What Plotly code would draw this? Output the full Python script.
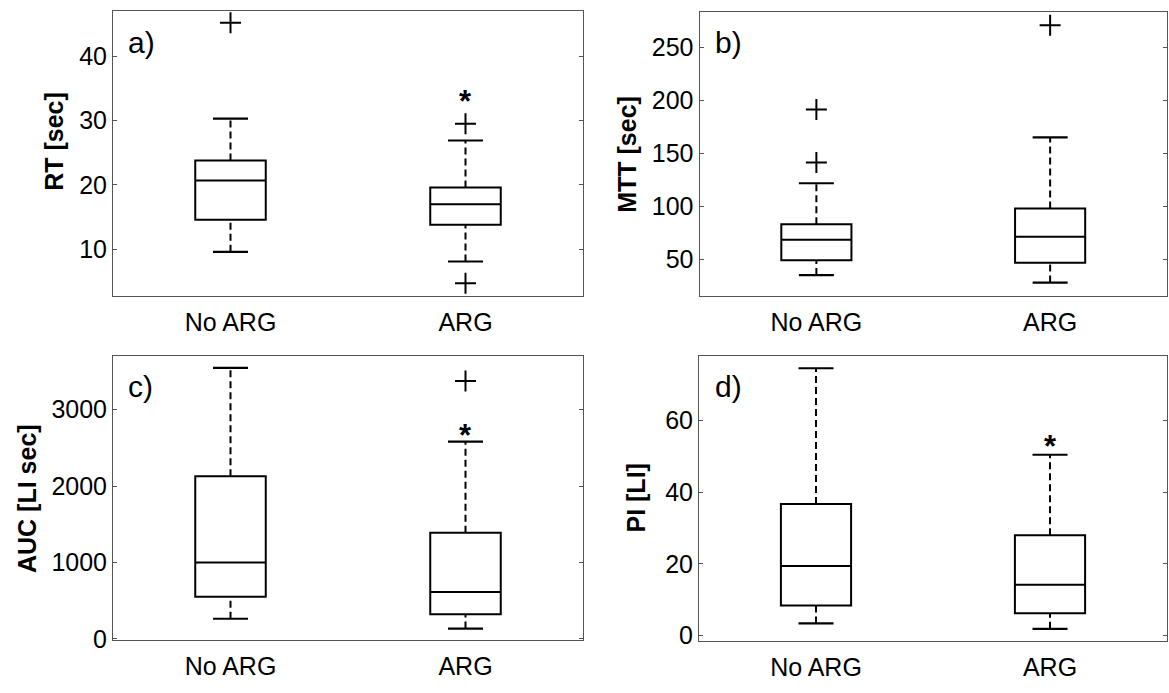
import plotly.graph_objects as go

groups = ["No ARG", "ARG"]

# a) RT [sec]
rt_q1 = [14.6, 13.8]
rt_med = [20.7, 17.0]
rt_q3 = [23.8, 19.6]
rt_lo = [9.6, 8.1]
rt_hi = [30.3, 26.9]
rt_out = [[45.2], [29.5, 4.7]]
rt_star = [None, 34.0]
rt_ticks = [10, 20, 30, 40]

# b) MTT [sec]
mtt_q1 = [49.4, 47.2]
mtt_med = [68.8, 71.6]
mtt_q3 = [83.3, 98.1]
mtt_lo = [35.5, 28.4]
mtt_hi = [121.9, 165.1]
mtt_out = [[191.4, 141.4], [270.7]]
mtt_star = [None, None]
mtt_ticks = [50, 100, 150, 200, 250]

# c) AUC [LI sec]
auc_q1 = [549, 322]
auc_med = [1000, 614]
auc_q3 = [2128, 1390]
auc_lo = [262, 133]
auc_hi = [3548, 2583]
auc_out = [[], [3376]]
auc_star = [None, 2754]
auc_ticks = [0, 1000, 2000, 3000]

# d) PI [LI]
pi_q1 = [8.4, 6.2]
pi_med = [19.4, 14.2]
pi_q3 = [36.7, 28.0]
pi_lo = [3.4, 1.9]
pi_hi = [74.5, 50.4]
pi_out = [[], []]
pi_star = [None, 54.6]
pi_ticks = [0, 20, 40, 60]

W, H = 1169, 693

panels = [
    dict(lab="a)", title="RT [sec]", q1=rt_q1, med=rt_med, q3=rt_q3, lo=rt_lo, hi=rt_hi,
         out=rt_out, star=rt_star, ticks=rt_ticks, yr=[2.77, 47.05],
         box=(113, 583, 11, 301), tpos=(54.6, 143.7), lpos=(126, 43)),
    dict(lab="b)", title="MTT [sec]", q1=mtt_q1, med=mtt_med, q3=mtt_q3, lo=mtt_lo, hi=mtt_hi,
         out=mtt_out, star=mtt_star, ticks=mtt_ticks, yr=[16.0, 283.3],
         box=(699.5, 1167, 12, 301), tpos=(627, 157.5), lpos=(713, 43)),
    dict(lab="c)", title="AUC [LI sec]", q1=auc_q1, med=auc_med, q3=auc_q3, lo=auc_lo, hi=auc_hi,
         out=auc_out, star=auc_star, ticks=auc_ticks, yr=[-19, 3703],
         box=(113, 583, 362.3, 651.5), tpos=(26.3, 507.5), lpos=(126, 393)),
    dict(lab="d)", title="PI [LI]", q1=pi_q1, med=pi_med, q3=pi_q3, lo=pi_lo, hi=pi_hi,
         out=pi_out, star=pi_star, ticks=pi_ticks, yr=[-1.5, 77.9],
         box=(699, 1167, 362.3, 652.3), tpos=(636.3, 507), lpos=(713, 393)),
]

FONT = "Liberation Sans, Arial, sans-serif"
fig = go.Figure()
annotations = []
layout = {}
pos = [0, 1]

for i, p in enumerate(panels):
    n = "" if i == 0 else str(i + 1)
    xa, ya = "x" + n, "y" + n
    # boxes
    fig.add_trace(go.Box(
        x=pos, q1=p["q1"], median=p["med"], q3=p["q3"],
        lowerfence=p["q1"], upperfence=p["q3"],
        width=0.3, whiskerwidth=0, boxpoints=False,
        line=dict(color="black", width=2), fillcolor="white",
        xaxis=xa, yaxis=ya, hoverinfo="skip"))
    # dashed whiskers
    wx, wy = [], []
    for k in range(2):
        wx += [pos[k], pos[k], None, pos[k], pos[k], None]
        wy += [p["q3"][k], p["hi"][k], None, p["lo"][k], p["q1"][k], None]
    fig.add_trace(go.Scatter(x=wx, y=wy, mode="lines",
                             line=dict(color="black", width=2, dash="7px,4px"),
                             xaxis=xa, yaxis=ya, hoverinfo="skip"))
    # caps
    cx = [pos[k] for k in range(2) for _ in range(2)]
    cy = [v for k in range(2) for v in (p["lo"][k], p["hi"][k])]
    fig.add_trace(go.Scatter(x=cx, y=cy, mode="markers",
                             marker=dict(symbol="line-ew", size=25,
                                         line=dict(color="black", width=2.2)),
                             xaxis=xa, yaxis=ya, hoverinfo="skip"))
    # outliers
    ox = [pos[k] for k in range(2) for _ in p["out"][k]]
    oy = [v for k in range(2) for v in p["out"][k]]
    if ox:
        fig.add_trace(go.Scatter(x=ox, y=oy, mode="markers",
                                 marker=dict(symbol="cross-thin", size=15,
                                             line=dict(color="black", width=2)),
                                 xaxis=xa, yaxis=ya, hoverinfo="skip"))
    # significance stars
    for k in range(2):
        if p["star"][k] is not None:
            annotations.append(dict(x=pos[k], y=p["star"][k], xref=xa, yref=ya,
                                    text="<b>*</b>", showarrow=False, yshift=-7,
                                    font=dict(family=FONT, size=31, color="black")))
    x0, x1, y0, y1 = p["box"]
    layout["xaxis" + n] = dict(domain=[x0 / W, x1 / W], range=[-0.5, 1.5],
                               tickvals=pos, ticktext=groups, ticks="",
                               ticklabelstandoff=4,
                               showline=True, mirror=True, linecolor="#555555", linewidth=1,
                               showgrid=False, zeroline=False, anchor=ya,
                               tickfont=dict(family=FONT, size=25, color="black"),
                               fixedrange=True)
    layout["yaxis" + n] = dict(domain=[1 - y1 / H, 1 - y0 / H], range=p["yr"],
                               tickvals=p["ticks"], ticks="inside", ticklen=4,
                               tickcolor="#555555",
                               showline=True, mirror="ticks", linecolor="#555555", linewidth=1,
                               showgrid=False, zeroline=False, anchor=xa,
                               tickfont=dict(family=FONT, size=25, color="black"),
                               fixedrange=True)
    annotations.append(dict(x=p["tpos"][0] / W, y=1 - p["tpos"][1] / H, xref="paper", yref="paper",
                            text="<b>" + p["title"] + "</b>", textangle=-90, showarrow=False,
                            xanchor="center", yanchor="middle",
                            font=dict(family=FONT, size=25, color="black")))
    annotations.append(dict(x=p["lpos"][0] / W, y=1 - p["lpos"][1] / H, xref="paper", yref="paper",
                            text=p["lab"], showarrow=False, xanchor="left", yanchor="middle",
                            font=dict(family=FONT, size=30, color="black")))

fig.update_layout(width=W, height=H, margin=dict(l=0, r=0, t=0, b=0),
                  paper_bgcolor="white", plot_bgcolor="white", showlegend=False,
                  annotations=annotations, **layout)

fig.write_html("out.html")
